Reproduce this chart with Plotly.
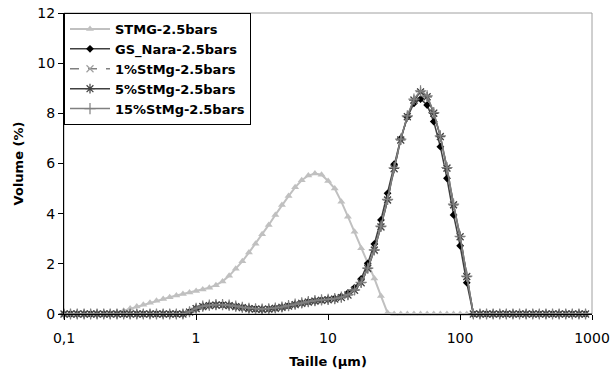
import plotly.graph_objects as go

# particle size bins (µm)
taille = [0.100, 0.112, 0.126, 0.142, 0.159, 0.178, 0.200, 0.224, 0.252, 0.283,
          0.317, 0.356, 0.399, 0.448, 0.502, 0.564, 0.632, 0.710, 0.796, 0.893,
          1.002, 1.125, 1.262, 1.416, 1.589, 1.783, 2.000, 2.244, 2.518, 2.825,
          3.170, 3.557, 3.991, 4.477, 5.024, 5.637, 6.325, 7.096, 7.962, 8.934,
          10.024, 11.247, 12.619, 14.159, 15.887, 17.825, 20.000, 22.440, 25.179, 28.251,
          31.698, 35.566, 39.905, 44.774, 50.238, 56.368, 63.246, 70.963, 79.621, 89.337,
          100.237, 112.468, 126.191, 141.589, 158.866, 178.250, 200.000, 224.404, 251.785, 282.508,
          316.979, 355.656, 399.052, 447.744, 502.377, 563.677, 632.456, 709.627, 796.214, 893.367,
          1002.374]

stmg = [0, 0, 0, 0, 0, 0, 0, 0, 0.05, 0.13,
        0.22, 0.30, 0.37, 0.45, 0.53, 0.60, 0.67, 0.74, 0.80, 0.86,
        0.92, 0.98, 1.05, 1.15, 1.30, 1.52, 1.80, 2.10, 2.45, 2.80,
        3.18, 3.55, 3.95, 4.35, 4.70, 5.05, 5.33, 5.52, 5.60, 5.55,
        5.30, 5.00, 4.48, 3.88, 3.28, 2.62, 2.02, 1.42, 0.72, 0.05,
        0, 0, 0, 0, 0, 0, 0, 0, 0, 0,
        0, 0, 0, 0, 0, 0, 0, 0, 0, 0,
        0, 0, 0, 0, 0, 0, 0, 0, 0, 0,
        0]

gs_nara = [0, 0, 0, 0, 0, 0, 0, 0, 0, 0,
           0, 0, 0, 0, 0, 0, 0, 0, 0, 0.08,
           0.22, 0.30, 0.34, 0.36, 0.36, 0.34, 0.30, 0.26, 0.22, 0.20,
           0.19, 0.20, 0.23, 0.27, 0.32, 0.38, 0.43, 0.48, 0.52, 0.55,
           0.58, 0.62, 0.70, 0.84, 1.05, 1.40, 2.02, 2.79, 3.75, 4.81,
           5.97, 7.00, 7.85, 8.40, 8.57, 8.33, 7.67, 6.67, 5.41, 3.95,
           2.72, 1.25, 0, 0, 0, 0, 0, 0, 0, 0,
           0, 0, 0, 0, 0, 0, 0, 0, 0, 0,
           0]

stmg1 = [0, 0, 0, 0, 0, 0, 0, 0, 0, 0,
         0, 0, 0, 0, 0, 0, 0, 0, 0, 0.07,
         0.21, 0.29, 0.33, 0.35, 0.35, 0.33, 0.29, 0.25, 0.21, 0.19,
         0.18, 0.19, 0.22, 0.26, 0.31, 0.37, 0.42, 0.47, 0.51, 0.54,
         0.56, 0.59, 0.65, 0.75, 0.94, 1.24, 1.80, 2.53, 3.46, 4.53,
         5.78, 6.92, 7.86, 8.52, 8.84, 8.66, 8.02, 7.08, 5.83, 4.36,
         3.08, 1.50, 0, 0, 0, 0, 0, 0, 0, 0,
         0, 0, 0, 0, 0, 0, 0, 0, 0, 0,
         0]

stmg5 = [0, 0, 0, 0, 0, 0, 0, 0, 0, 0,
         0, 0, 0, 0, 0, 0, 0, 0, 0, 0.08,
         0.22, 0.30, 0.34, 0.36, 0.36, 0.34, 0.30, 0.26, 0.22, 0.20,
         0.19, 0.20, 0.23, 0.27, 0.32, 0.38, 0.43, 0.48, 0.52, 0.55,
         0.57, 0.60, 0.66, 0.76, 0.95, 1.25, 1.82, 2.55, 3.48, 4.55,
         5.80, 6.94, 7.87, 8.53, 8.86, 8.66, 8.00, 7.07, 5.81, 4.35,
         3.08, 1.49, 0, 0, 0, 0, 0, 0, 0, 0,
         0, 0, 0, 0, 0, 0, 0, 0, 0, 0,
         0]

stmg15 = [0, 0, 0, 0, 0, 0, 0, 0, 0, 0,
          0, 0, 0, 0, 0, 0, 0, 0, 0, 0.09,
          0.23, 0.31, 0.35, 0.37, 0.37, 0.35, 0.31, 0.27, 0.23, 0.21,
          0.20, 0.21, 0.24, 0.28, 0.33, 0.39, 0.44, 0.49, 0.53, 0.56,
          0.58, 0.61, 0.67, 0.77, 0.96, 1.26, 1.83, 2.56, 3.50, 4.57,
          5.83, 6.97, 7.90, 8.57, 8.90, 8.70, 8.03, 7.10, 5.84, 4.38,
          3.10, 1.51, 0, 0, 0, 0, 0, 0, 0, 0,
          0, 0, 0, 0, 0, 0, 0, 0, 0, 0,
          0]

names = ["STMG-2.5bars", "GS_Nara-2.5bars", "1%StMg-2.5bars", "5%StMg-2.5bars", "15%StMg-2.5bars"]
xticks = [0.1, 1, 10, 100, 1000]
xticklabels = ["0,1", "1", "10", "100", "1000"]

fig = go.Figure()
fig.add_trace(go.Scatter(x=taille, y=stmg, name=names[0], mode="lines+markers",
                         line=dict(color="#c0c0c0", width=2),
                         marker=dict(symbol="triangle-up", size=7, color="#c0c0c0"),
                         cliponaxis=False))
fig.add_trace(go.Scatter(x=taille, y=gs_nara, name=names[1], mode="lines+markers",
                         line=dict(color="#404040", width=1.5),
                         marker=dict(symbol="diamond", size=6, color="#000000"),
                         cliponaxis=False))
fig.add_trace(go.Scatter(x=taille, y=stmg1, name=names[2], mode="lines+markers",
                         line=dict(color="#808080", width=1.5, dash="dash"),
                         marker=dict(symbol="x-thin-open", size=7, color="#a0a0a0",
                                     line=dict(width=1.2, color="#a0a0a0")),
                         cliponaxis=False))
fig.add_trace(go.Scatter(x=taille, y=stmg5, name=names[3], mode="lines+markers",
                         line=dict(color="#404040", width=1.5),
                         marker=dict(symbol="asterisk-open", size=8, color="#404040",
                                     line=dict(width=1.2, color="#404040")),
                         cliponaxis=False))
fig.add_trace(go.Scatter(x=taille, y=stmg15, name=names[4], mode="lines+markers",
                         line=dict(color="#808080", width=1.5),
                         marker=dict(symbol="cross-thin-open", size=8, color="#808080",
                                     line=dict(width=1.2, color="#808080")),
                         cliponaxis=False))

fig.add_shape(type="rect", xref="paper", yref="paper", x0=0, y0=0, x1=1, y1=1,
              line=dict(color="#a0a0a0", width=1), layer="below")

fig.update_layout(
    width=612, height=374,
    margin=dict(l=64, r=20, t=13, b=60, autoexpand=False),
    paper_bgcolor="white", plot_bgcolor="white",
    font=dict(family="DejaVu Sans", size=14, color="#000000"),
    showlegend=True,
    legend=dict(x=0, y=1, xanchor="left", yanchor="top",
                bgcolor="white", bordercolor="#000000", borderwidth=1,
                font=dict(family="DejaVu Sans", size=13, color="#000000", weight="bold"),
                tracegroupgap=0, itemwidth=40),
    xaxis=dict(type="log", range=[-1, 3], tickvals=xticks, ticktext=xticklabels,
               automargin=False,
               showgrid=False, zeroline=False, showline=True, linecolor="#000000",
               linewidth=1, ticks="outside", ticklen=5, tickcolor="#000000",
               ticklabelstandoff=6,
               tickfont=dict(size=14, color="#000000"),
               title=dict(text="Taille (µm)", font=dict(size=13, weight="bold"), standoff=12)),
    yaxis=dict(range=[0, 12], dtick=2, showgrid=False, zeroline=False, showline=True,
               automargin=False,
               linecolor="#000000", linewidth=1, ticks="outside", ticklen=5,
               tickcolor="#000000", tickfont=dict(size=14, color="#000000"),
               title=dict(text="Volume (%)", font=dict(size=13, weight="bold"), standoff=10)),
)

fig.write_html("out.html", config={"displayModeBar": False},
               post_script="document.body.style.margin='0';")
